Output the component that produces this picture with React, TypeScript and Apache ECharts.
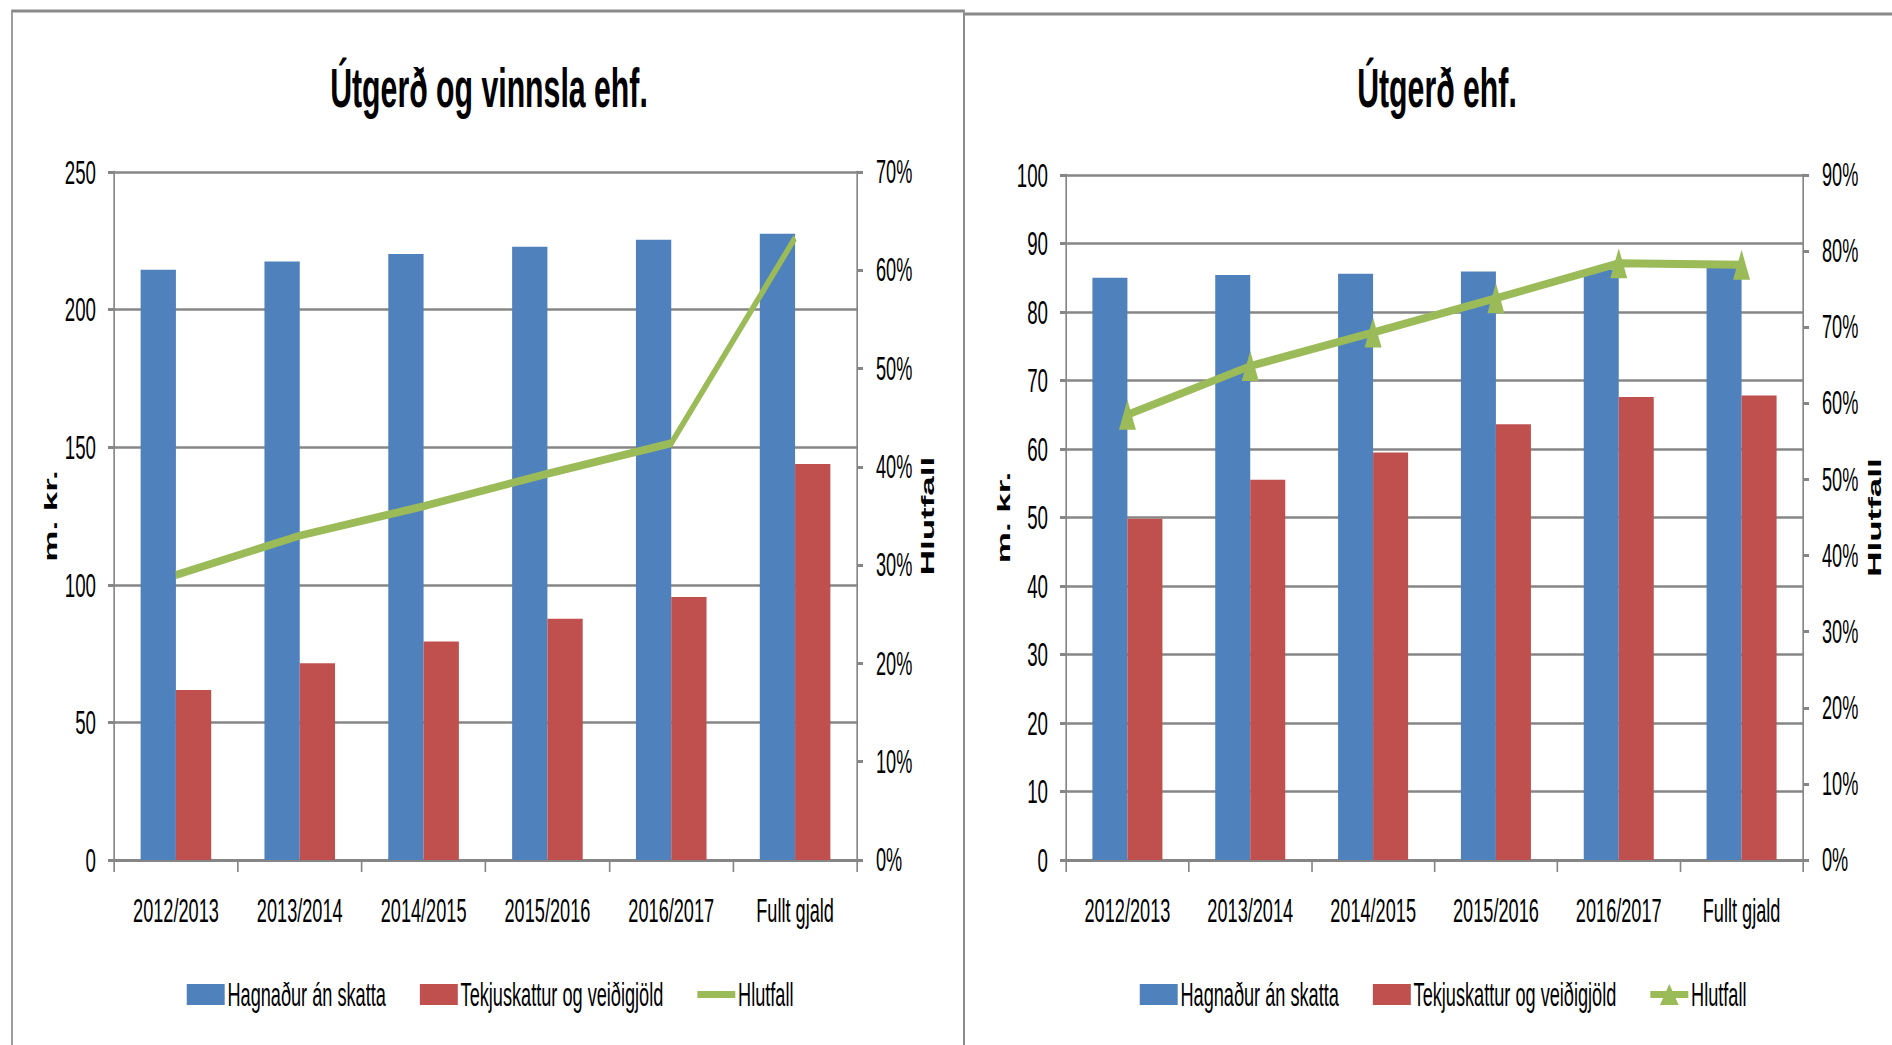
import React, { useEffect, useRef } from 'react';
import * as echarts from 'echarts';

const categories = ['2012/2013', '2013/2014', '2014/2015', '2015/2016', '2016/2017', 'Fullt gjald'];

// Útgerð og vinnsla ehf.
const hagnadurA = [214.5, 217.5, 220.2, 222.8, 225.4, 227.6];
const tekjuA = [61.8, 71.5, 79.4, 87.7, 95.6, 143.9];
const hlutfallA = [29.0, 33.0, 36.0, 39.3, 42.4, 63.3];

// Útgerð ehf.
const hagnadurB = [85.0, 85.4, 85.6, 85.9, 86.2, 86.5];
const tekjuB = [49.8, 55.5, 59.5, 63.6, 67.6, 67.8];
const hlutfallB = [58.5, 64.9, 69.3, 73.8, 78.4, 78.2];

const titles = ['Útgerð og vinnsla ehf.', 'Útgerð ehf.'];
const seriesNames = ['Hagnaður án skatta', 'Tekjuskattur og veiðigjöld', 'Hlutfall'];
const leftAxisName = 'm. kr.';
const rightAxisName = 'Hlutfall';

const S = 0.55; // horizontal squeeze of the whole picture
const W = Math.ceil(1892 / S);
const H = 1045;
const fx = (v: number) => v / S; // page x (px) -> chart x
const FONT = "'Liberation Sans', Arial, sans-serif";
const BLUE = '#4F81BD';
const RED = '#C0504D';
const GREEN = '#9BBB59';
const GRAY = '#868686';

const labelStyle = { fontFamily: FONT, fontSize: 33, color: '#000' };
const nameStyle = { fontFamily: FONT, fontSize: 35, fontWeight: 'bold', color: '#000' };

function xAxis(gridIndex: number) {
  return {
    gridIndex,
    type: 'category',
    data: categories,
    axisLine: { show: true, lineStyle: { color: GRAY, width: 3 } },
    axisTick: { show: true, length: 12, lineStyle: { color: GRAY, width: 3 } },
    axisLabel: { ...labelStyle, margin: 34, interval: 0 },
    splitLine: { show: false },
  };
}

function leftY(gridIndex: number, max: number, interval: number, nameGap: number) {
  return {
    gridIndex,
    type: 'value',
    position: 'left',
    min: 0,
    max,
    interval,
    name: leftAxisName,
    nameLocation: 'middle',
    nameGap,
    nameTextStyle: nameStyle,
    axisLine: { show: true, lineStyle: { color: GRAY, width: 3 } },
    axisTick: { show: true, length: fx(6), lineStyle: { color: GRAY, width: 3 } },
    axisLabel: { ...labelStyle, fontSize: 34, margin: fx(18) },
    splitLine: { show: true, lineStyle: { color: GRAY, width: 2.5 } },
  };
}

function rightY(gridIndex: number, max: number, nameGap: number) {
  return {
    gridIndex,
    type: 'value',
    position: 'right',
    min: 0,
    max,
    interval: 10,
    name: rightAxisName,
    nameLocation: 'middle',
    nameGap,
    nameTextStyle: nameStyle,
    axisLine: { show: true, lineStyle: { color: GRAY, width: 3 } },
    axisTick: { show: true, length: fx(6), lineStyle: { color: GRAY, width: 3 } },
    axisLabel: { ...labelStyle, margin: fx(19), formatter: '{value}%' },
    splitLine: { show: false },
  };
}

const ICON_W = Math.round(fx(38));

function legend(left: number, lineIcon: string) {
  return {
    left,
    top: 973,
    orient: 'horizontal',
    itemWidth: ICON_W,
    itemHeight: 21,
    itemGap: fx(34),
    selectedMode: false,
    textStyle: { fontFamily: FONT, fontSize: 33, color: '#000' },
    data: [
      { name: seriesNames[0], icon: 'rect', itemStyle: { color: BLUE, borderWidth: 0 } },
      { name: seriesNames[1], icon: 'rect', itemStyle: { color: RED, borderWidth: 0 } },
      { name: seriesNames[2], icon: lineIcon, itemStyle: { color: GREEN, borderWidth: 0 } },
    ],
  };
}

function bars(axis: number, yAxisIndex: number, blue: number[], red: number[]) {
  return [
    {
      name: seriesNames[0],
      type: 'bar',
      xAxisIndex: axis,
      yAxisIndex,
      data: blue,
      barGap: '0%',
      barCategoryGap: '43%',
      itemStyle: { color: BLUE },
    },
    {
      name: seriesNames[1],
      type: 'bar',
      xAxisIndex: axis,
      yAxisIndex,
      data: red,
      barGap: '0%',
      barCategoryGap: '43%',
      itemStyle: { color: RED },
    },
  ];
}

function titleText(x: number, text: string) {
  return {
    type: 'text',
    x,
    y: 88,
    z: 10,
    style: {
      text,
      fontFamily: FONT,
      fontSize: 55,
      fontWeight: 'bold',
      fill: '#000',
      align: 'center',
      verticalAlign: 'middle',
    },
  };
}

const option = {
  animation: false,
  backgroundColor: '#fff',
  grid: [
    { left: fx(114), right: W - fx(857), top: 172, bottom: H - 860, containLabel: false },
    { left: fx(1066), right: W - fx(1803), top: 175, bottom: H - 860, containLabel: false },
  ],
  graphic: [
    {
      type: 'rect',
      shape: { x: fx(12), y: 11, width: fx(964 - 12), height: 1200 },
      style: { fill: 'none', stroke: '#8a8a8a', lineWidth: 3 },
      z: 0,
    },
    {
      type: 'rect',
      shape: { x: fx(964), y: 14, width: fx(1200), height: 1200 },
      style: { fill: 'none', stroke: '#8a8a8a', lineWidth: 3 },
      z: 0,
    },
    titleText(fx(489), titles[0]),
    titleText(fx(1437), titles[1]),
  ],
  legend: [
    legend(fx(184), `path://M0,0H${ICON_W}V7H0Z`),
    legend(
      fx(1137),
      `path://M0,7H${ICON_W}V14H0Z M${ICON_W / 2 - 17},21L${ICON_W / 2},0L${ICON_W / 2 + 17},21Z`
    ),
  ],
  xAxis: [xAxis(0), xAxis(1)],
  yAxis: [
    leftY(0, 250, 50, fx(54)),
    rightY(0, 70, fx(60.5)),
    leftY(1, 100, 10, fx(53)),
    rightY(1, 90, fx(61.5)),
  ],
  series: [
    ...bars(0, 0, hagnadurA, tekjuA),
    {
      name: seriesNames[2],
      type: 'line',
      xAxisIndex: 0,
      yAxisIndex: 1,
      data: hlutfallA,
      symbol: 'none',
      lineStyle: { color: GREEN, width: 8 },
      itemStyle: { color: GREEN },
      z: 3,
    },
    ...bars(1, 2, hagnadurB, tekjuB),
    {
      name: seriesNames[2],
      type: 'line',
      xAxisIndex: 1,
      yAxisIndex: 3,
      data: hlutfallB,
      symbol: 'triangle',
      symbolSize: [fx(17), 30],
      showSymbol: true,
      lineStyle: { color: GREEN, width: 8 },
      itemStyle: { color: GREEN, borderWidth: 0 },
      z: 3,
    },
  ],
};

export default function App() {
  const ref = useRef<HTMLDivElement>(null);
  useEffect(() => {
    if (!ref.current) return;
    const chart = echarts.init(ref.current, null, { renderer: 'svg' });
    chart.setOption(option as any);
    return () => chart.dispose();
  }, []);
  return (
    <div
      style={{
        position: 'fixed',
        left: 0,
        top: 0,
        width: 1892,
        height: 1045,
        overflow: 'hidden',
        background: '#fff',
      }}
    >
      <div style={{ width: W, height: H, transform: `scaleX(${S})`, transformOrigin: '0 0' }}>
        <div ref={ref} style={{ width: W, height: H }} />
      </div>
    </div>
  );
}
